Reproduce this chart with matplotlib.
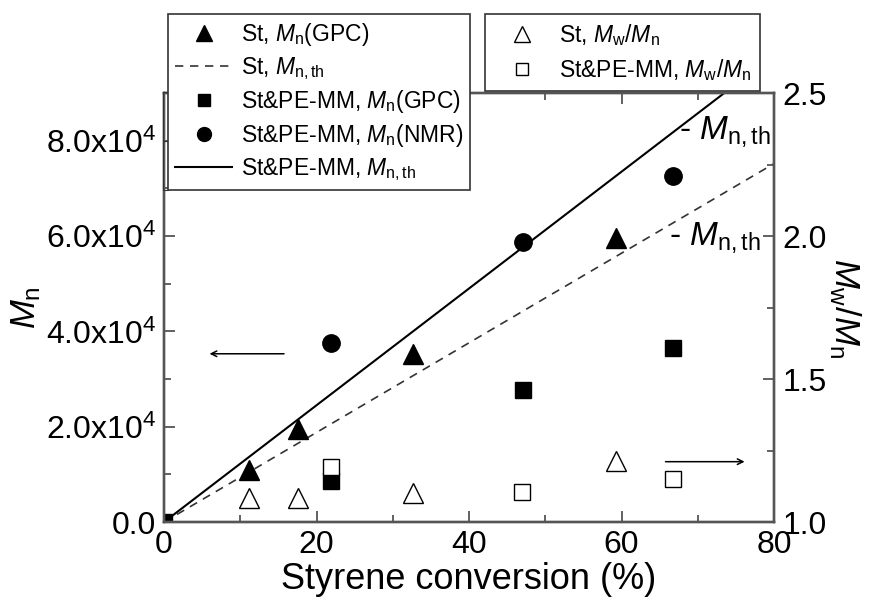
import matplotlib
matplotlib.use("Agg")
import matplotlib.pyplot as plt
from matplotlib.ticker import MultipleLocator, FixedLocator, FixedFormatter
from matplotlib.patches import Rectangle

plt.rcParams['font.family'] = ['Liberation Sans', 'DejaVu Sans']
plt.rcParams['mathtext.fontset'] = 'custom'
plt.rcParams['mathtext.rm'] = 'Liberation Sans'
plt.rcParams['mathtext.it'] = 'Liberation Sans:italic'

# data
st_conv = [11.1, 17.6, 32.7, 59.3]
st_mn_gpc = [10900, 19600, 35200, 59500]
st_pdi = [1.085, 1.085, 1.103, 1.213]

pe_conv = [0, 21.9, 47.1, 66.8]
pe_mn_gpc = [0, 8600, 27600, 36600]
pe_conv_nmr = [21.9, 47.1, 66.8]
pe_mn_nmr = [37500, 58800, 72500]
pe_conv_pdi = [21.9, 47.0, 66.7]
pe_pdi = [1.194, 1.105, 1.149]

th_conv = [0, 80]
st_mn_th = [0, 75200]
pe_mn_th = [0, 98000]

left_ticks = [0, 20000, 40000, 60000, 80000]
left_labels = ['0.0', '2.0x10$^4$', '4.0x10$^4$', '6.0x10$^4$', '8.0x10$^4$']

spine_c = '#555555'

fig = plt.figure(figsize=(8.81, 6.01), dpi=100)
ax = fig.add_axes([0.1862, 0.1314, 0.6924, 0.7138])
ax2 = ax.twinx()

# left axis, Mn
ax.plot(th_conv, pe_mn_th, color='black', lw=1.5)
ax.plot(th_conv, st_mn_th, color='#333333', lw=1.2, ls=(0, (5, 4)))
ax.plot(st_conv, st_mn_gpc, '^', color='black', ms=14)
ax.plot(pe_conv, pe_mn_gpc, 's', color='black', ms=11)
ax.plot(pe_conv_nmr, pe_mn_nmr, 'o', color='black', ms=12.5)

# right axis, Mw/Mn
ax2.plot(st_conv, st_pdi, '^', mfc='white', mec='black', mew=1.0, ms=14)
ax2.plot(pe_conv_pdi, pe_pdi, 's', mfc='white', mec='black', mew=1.0, ms=11)

ax.set_xlim(0, 80)
ax.set_ylim(0, 90000)
ax2.set_ylim(1.0, 2.5)

ax.xaxis.set_major_locator(MultipleLocator(20))
ax.xaxis.set_minor_locator(MultipleLocator(10))
ax.yaxis.set_major_locator(FixedLocator(left_ticks))
ax.yaxis.set_major_formatter(FixedFormatter(left_labels))
ax.yaxis.set_minor_locator(MultipleLocator(10000))
ax2.yaxis.set_major_locator(MultipleLocator(0.5))
ax2.yaxis.set_minor_locator(MultipleLocator(0.25))
ax2.yaxis.set_major_formatter(plt.FormatStrFormatter('%.1f'))

ax.tick_params(which='both', direction='in', top=True, right=False, color=spine_c, width=1.3)
ax.tick_params(which='major', length=8, labelsize=23, pad=6)
ax.tick_params(which='minor', length=5)
ax2.tick_params(which='both', direction='in', color=spine_c, width=1.3)
ax2.tick_params(which='major', length=8, labelsize=23, pad=6)
ax2.tick_params(which='minor', length=5)

for a in (ax, ax2):
    for s in a.spines.values():
        s.set_color(spine_c)
        s.set_linewidth(1.7)

ax.set_xlabel('Styrene conversion (%)', fontsize=26, labelpad=1)
ax.set_ylabel(r'$M_{\rm n}$', fontsize=25, labelpad=2)
ax2.set_ylabel(r'$M_{\rm w}/M_{\rm n}$', fontsize=25, rotation=-90, labelpad=26)

# arrows pointing at the axes
ax.annotate('', xy=(5.6, 35300), xytext=(16.1, 35300),
            arrowprops=dict(arrowstyle='->', color='black', lw=1.1))
ax2.annotate('', xy=(76.5, 1.211), xytext=(65.4, 1.211),
             arrowprops=dict(arrowstyle='->', color='black', lw=1.1))

ax.text(67.6, 80500, r'- $M_{\rm n,th}$', fontsize=24, va='baseline')
ax.text(66.2, 58300, r'- $M_{\rm n,th}$', fontsize=24, va='baseline')

# legends
h = ax.get_lines()
leg1 = fig.legend([h[2], h[1], h[3], h[4], h[0]],
                  [r'St, $M_{\rm n}$(GPC)', r'St, $M_{\rm n,th}$',
                   r'St&PE-MM, $M_{\rm n}$(GPC)', r'St&PE-MM, $M_{\rm n}$(NMR)',
                   r'St&PE-MM, $M_{\rm n,th}$'],
                  loc='upper left', bbox_to_anchor=(0.1907, 0.9767),
                  fontsize=16.5, frameon=True, fancybox=False, framealpha=1,
                  edgecolor='#333333', handlelength=2.5, handletextpad=0.4,
                  labelspacing=0.3, borderpad=0.3, borderaxespad=0, markerscale=0.8)
leg1.get_frame().set_linewidth(1.2)

h2 = ax2.get_lines()
leg2 = fig.legend(h2, [r'St, $M_{\rm w}/M_{\rm n}$', r'St&PE-MM, $M_{\rm w}/M_{\rm n}$'],
                  loc='upper left', bbox_to_anchor=(0.5505, 0.9767),
                  fontsize=16.5, frameon=True, fancybox=False, framealpha=1,
                  edgecolor='#333333', handlelength=2.5, handletextpad=0.4,
                  labelspacing=0.38, borderpad=0.35, borderaxespad=0, markerscale=0.8)
leg2.get_frame().set_linewidth(1.2)

# thin box left of the legend
for y0, y1 in [(92, 141), (141, 190)]:
    fig.patches.append(Rectangle((163 / 881, 1 - y1 / 601), 5 / 881, (y1 - y0) / 601,
                                 transform=fig.transFigure, fill=False,
                                 edgecolor='#333333', lw=0.8))

plt.savefig('out.png', dpi=100)
